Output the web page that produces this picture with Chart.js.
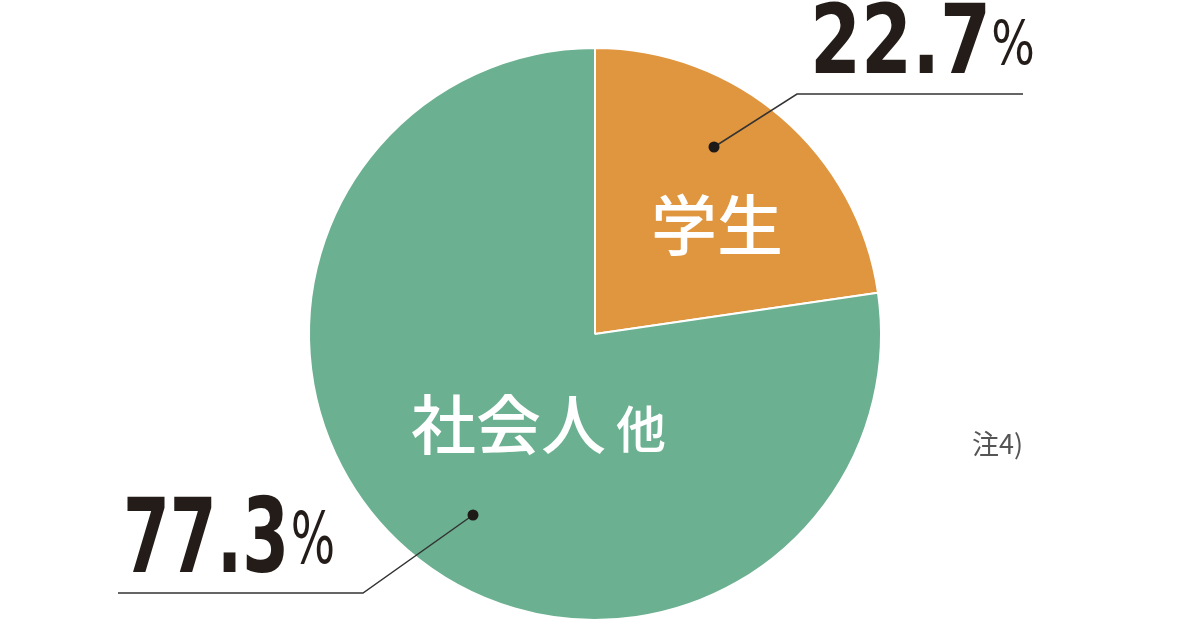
<!DOCTYPE html>
<html>
<head>
<meta charset="utf-8">
<script src="https://cdn.jsdelivr.net/npm/chart.js@4.4.0/dist/chart.umd.min.js"></script>
<style>
  html, body { margin: 0; padding: 0; background: #fff; }
  #wrap { width: 1200px; height: 628px; position: relative; }
</style>
</head>
<body>
<div id="wrap"><canvas id="pieChart" width="1200" height="628"></canvas></div>
<script>
// 데이터
const categories = ['学生', '社会人他'];
const shares = [22.7, 77.3];
const sliceColors = ['#e0953f', '#6bb090'];
const noteText = '注4)';

// labels + leader lines drawn on top of the pie
const calloutPlugin = {
  id: 'callouts',
  afterDatasetsDraw(chart) {
    const ctx = chart.ctx;
    const area = chart.chartArea;
    const cx = (area.left + area.right) / 2;
    const cy = (area.top + area.bottom) / 2;
    const jp = '"Noto Sans CJK JP", "Noto Sans", sans-serif';
    const num = '"Liberation Sans Narrow", "DejaVu Sans Condensed", sans-serif';

    ctx.save();
    // category names inside slices
    ctx.fillStyle = '#ffffff';
    ctx.textAlign = 'center';
    ctx.textBaseline = 'ideographic';
    ctx.font = '500 66px ' + jp;
    ctx.fillText(categories[0], cx + 122, cy - 76);
    ctx.textAlign = 'left';
    ctx.font = '500 65px ' + jp;
    ctx.fillText('社会人', cx - 184, cy + 123);
    ctx.font = '500 50px ' + jp;
    ctx.fillText('他', cx + 21, cy + 120);

    // leader lines
    ctx.strokeStyle = '#333333';
    ctx.lineWidth = 1.5;
    ctx.beginPath();
    ctx.moveTo(cx + 119, cy - 187);
    ctx.lineTo(cx + 202, cy - 240);
    ctx.lineTo(cx + 428, cy - 240);
    ctx.stroke();
    ctx.beginPath();
    ctx.moveTo(cx - 122, cy + 181);
    ctx.lineTo(cx - 232, cy + 259);
    ctx.lineTo(cx - 477, cy + 259);
    ctx.stroke();

    ctx.fillStyle = '#1e1a18';
    [[cx + 119, cy - 187], [cx - 122, cy + 181]].forEach(p => {
      ctx.beginPath();
      ctx.arc(p[0], p[1], 5.5, 0, Math.PI * 2);
      ctx.fill();
    });

    // percentages (squeezed to look like a condensed face)
    ctx.textAlign = 'left';
    ctx.textBaseline = 'alphabetic';
    ctx.fillStyle = '#231c19';
    const drawPct = (val, x, base, size, sx, pSize, pGap) => {
      ctx.save();
      ctx.translate(x, base);
      ctx.scale(sx, 1);
      ctx.font = 'bold ' + size + 'px ' + num;
      const t = val.toFixed(1);
      ctx.fillText(t, 0, 0);
      const w = ctx.measureText(t).width;
      ctx.font = pSize + 'px ' + num;
      ctx.fillText('%', w + pGap, -9);
      ctx.restore();
    };
    drawPct(shares[0], cx + 215, cy - 261, 96, 0.85, 60, 0);
    drawPct(shares[1], cx - 472, cy + 238, 104, 0.72, 72, 2);

    // note
    ctx.fillStyle = '#555555';
    ctx.font = '27px ' + jp;
    ctx.textBaseline = 'middle';
    ctx.fillText(noteText, cx + 377, cy + 110);
    ctx.restore();
  }
};

const pieCtx = document.getElementById('pieChart').getContext('2d');
const pieChart = new Chart(pieCtx, {
  type: 'pie',
  data: {
    labels: categories,
    datasets: [{
      data: shares,
      backgroundColor: sliceColors,
      borderColor: '#ffffff',
      borderWidth: 2
    }]
  },
  options: {
    responsive: false,
    animation: false,
    layout: { padding: { left: 308, right: 318, top: 47, bottom: 7 } },
    plugins: {
      legend: { display: false },
      tooltip: { enabled: false }
    }
  },
  plugins: [calloutPlugin]
});
</script>
</body>
</html>
